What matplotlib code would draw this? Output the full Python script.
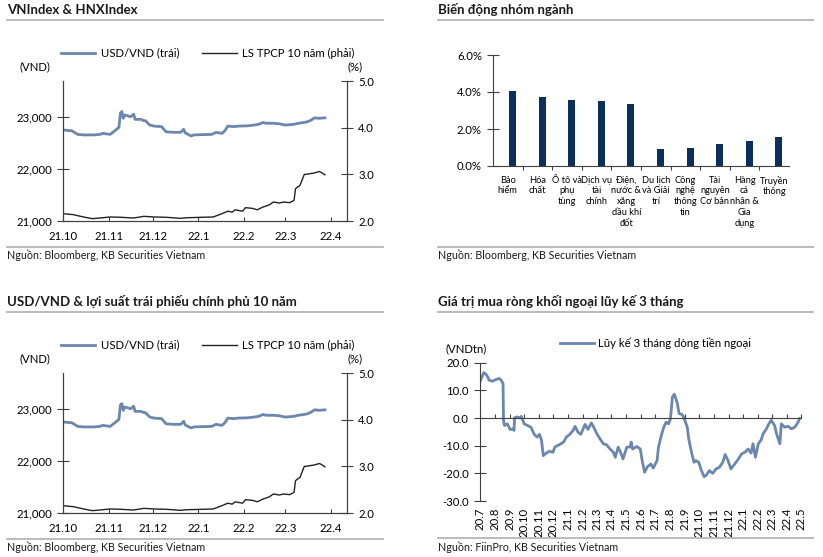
import matplotlib
matplotlib.use("Agg")
import matplotlib.pyplot as plt
import matplotlib.dates as mdates
from matplotlib.lines import Line2D
from matplotlib.ticker import FuncFormatter
import pandas as pd
import numpy as np

plt.rcParams['font.family'] = ['Lato', 'Noto Sans', 'DejaVu Sans']

# USD/VND (left axis)
fx_dates = ["2021-10-01", "2021-10-07", "2021-10-11", "2021-10-15", "2021-10-22", "2021-10-26",
            "2021-10-28", "2021-11-02", "2021-11-05", "2021-11-08", "2021-11-09", "2021-11-10",
            "2021-11-11", "2021-11-12", "2021-11-16", "2021-11-18", "2021-11-19", "2021-11-23",
            "2021-11-25", "2021-11-26", "2021-11-29", "2021-12-02", "2021-12-07", "2021-12-10",
            "2021-12-15", "2021-12-20", "2021-12-22", "2021-12-23", "2021-12-27", "2021-12-29",
            "2022-01-03", "2022-01-10", "2022-01-13", "2022-01-17", "2022-01-19", "2022-01-21",
            "2022-01-25", "2022-01-28", "2022-02-03", "2022-02-08", "2022-02-11", "2022-02-14",
            "2022-02-16", "2022-02-21", "2022-02-25", "2022-03-01", "2022-03-07", "2022-03-10",
            "2022-03-15", "2022-03-18", "2022-03-21", "2022-03-24", "2022-03-28"]
usd_vnd = [22755, 22740, 22670, 22660, 22660, 22670,
           22690, 22670, 22735, 22805, 23080, 23110,
           22980, 23045, 23010, 23060, 22960, 22960,
           22935, 22935, 22850, 22830, 22820, 22720,
           22710, 22710, 22770, 22700, 22640, 22660,
           22665, 22670, 22710, 22690, 22740, 22830,
           22820, 22830, 22835, 22850, 22865, 22900,
           22885, 22885, 22875, 22850, 22865, 22885,
           22905, 22935, 22990, 22980, 22990]

# 10y government bond yield (right axis, %)
yld_dates = ["2021-10-01", "2021-10-08", "2021-10-15", "2021-10-21", "2021-10-26", "2021-11-02",
             "2021-11-09", "2021-11-18", "2021-11-25", "2021-12-02", "2021-12-10", "2021-12-20",
             "2021-12-24", "2022-01-03", "2022-01-11", "2022-01-14", "2022-01-17", "2022-01-21",
             "2022-01-24", "2022-01-26", "2022-01-31", "2022-02-02", "2022-02-07", "2022-02-10",
             "2022-02-14", "2022-02-18", "2022-02-21", "2022-02-25", "2022-02-28", "2022-03-04",
             "2022-03-07", "2022-03-08", "2022-03-09", "2022-03-11", "2022-03-14", "2022-03-15",
             "2022-03-21", "2022-03-24", "2022-03-25", "2022-03-28"]
yld = [2.157, 2.136, 2.086, 2.05, 2.064, 2.086,
       2.08, 2.064, 2.10, 2.086, 2.08, 2.057,
       2.07, 2.079, 2.086, 2.12, 2.157, 2.21,
       2.19, 2.24, 2.21, 2.286, 2.27, 2.24,
       2.30, 2.343, 2.407, 2.386, 2.407, 2.393,
       2.44, 2.69, 2.72, 2.76, 3.0, 3.0,
       3.03, 3.06, 3.05, 2.99]

# sector moves
sectors = ["Bảo\nhiểm", "Hóa\nchất", "Ô tô và\nphụ\ntùng", "Dịch vụ\ntài\nchính",
           "Điện,\nnước &\nxăng\ndầu khí\nđốt", "Du lịch\nvà Giải\ntrí", "Công\nnghệ\nthông\ntin",
           "Tài\nnguyên\nCơ bản", "Hàng\ncá\nnhân &\nGia\ndụng", "Truyền\nthông"]
sector_chg = [4.07, 3.71, 3.57, 3.51, 3.33, 0.92, 0.97, 1.21, 1.33, 1.55]

# 3M cumulative foreign net buying (VNDtn)
flow_dates = ["2020-07-01", "2020-07-05", "2020-07-09", "2020-07-13", "2020-07-17", "2020-07-20",
              "2020-07-27", "2020-08-03", "2020-08-10", "2020-08-14", "2020-08-18", "2020-08-19",
              "2020-08-21", "2020-08-27", "2020-09-02", "2020-09-07", "2020-09-10", "2020-09-11",
              "2020-09-16", "2020-09-22", "2020-09-25", "2020-10-01", "2020-10-08", "2020-10-15",
              "2020-10-22", "2020-10-28", "2020-11-02", "2020-11-06", "2020-11-10", "2020-11-16",
              "2020-11-23", "2020-11-30", "2020-12-04", "2020-12-10", "2020-12-17", "2020-12-23",
              "2020-12-28", "2021-01-04", "2021-01-11", "2021-01-15", "2021-01-21", "2021-01-27",
              "2021-02-01", "2021-02-05", "2021-02-11", "2021-02-18", "2021-02-23", "2021-03-01",
              "2021-03-08", "2021-03-15", "2021-03-22", "2021-03-29", "2021-04-05", "2021-04-09",
              "2021-04-15", "2021-04-20", "2021-04-25", "2021-05-03", "2021-05-10", "2021-05-12",
              "2021-05-15", "2021-05-24", "2021-05-31", "2021-06-04", "2021-06-09", "2021-06-15",
              "2021-06-22", "2021-06-27", "2021-07-05", "2021-07-08", "2021-07-13", "2021-07-19",
              "2021-07-24", "2021-07-29", "2021-08-02", "2021-08-06", "2021-08-10", "2021-08-16",
              "2021-08-20", "2021-08-26", "2021-08-30", "2021-09-06", "2021-09-09", "2021-09-14",
              "2021-09-20", "2021-09-24", "2021-09-30", "2021-10-05", "2021-10-11", "2021-10-15",
              "2021-10-22", "2021-10-29", "2021-11-05", "2021-11-12", "2021-11-19", "2021-11-24",
              "2021-11-30", "2021-12-06", "2021-12-13", "2021-12-20", "2021-12-28", "2022-01-04",
              "2022-01-11", "2022-01-17", "2022-01-21", "2022-01-26", "2022-02-01", "2022-02-07",
              "2022-02-11", "2022-02-18", "2022-02-23", "2022-02-28", "2022-03-07", "2022-03-11",
              "2022-03-18", "2022-03-21", "2022-03-28", "2022-04-04", "2022-04-11", "2022-04-18",
              "2022-04-25", "2022-04-28"]
flow = [13.1, 14.9, 16.4, 15.9, 14.9, 13.7,
        13.3, 13.9, 14.3, 13.7, 12.5, -0.8,
        -2.7, -2.1, -4.2, -3.9, -4.5, 0.1,
        0.4, 0.0, 0.6, -2.1, -2.7, -3.3,
        -5.9, -6.9, -5.9, -7.9, -13.6, -12.7,
        -12.0, -12.4, -10.5, -9.9, -9.3, -8.5,
        -6.9, -5.9, -4.5, -3.0, -5.1, -5.9,
        -3.9, -2.3, -4.1, -1.8, -3.3, -5.5,
        -7.5, -9.3, -9.7, -11.2, -12.4, -14.2,
        -10.5, -12.4, -14.8, -10.5, -10.5, -8.7,
        -11.2, -10.3, -11.2, -15.4, -19.6, -17.6,
        -16.6, -18.1, -15.4, -10.5, -6.9, -3.3,
        -1.5, -2.1, -0.2, 7.6, 8.6, 5.5,
        1.6, 1.3, 0.1, -3.3, -7.5, -11.8,
        -16.0, -15.4, -16.0, -18.8, -21.2, -20.8,
        -19.0, -20.0, -18.4, -17.8, -16.0, -13.2,
        -15.4, -18.4, -16.8, -15.2, -13.0, -12.4,
        -11.2, -12.7, -9.3, -14.2, -9.3, -7.9,
        -5.7, -3.9, -2.1, -0.8, -2.7, -5.7,
        -9.3, -2.1, -3.3, -3.0, -3.9, -3.3,
        -1.5, -0.2]

W, H = 823, 557
blue = '#6b87ad'
navy = '#0c2f5c'
rule = '#b5b5b5'
spine_c = '#404040'
txt_c = '#1a1a1a'
fs = 8.2

fig = plt.figure(figsize=(W / 100, H / 100), dpi=100)


def fx(x):
    return x / W


def fy(y):
    return 1 - y / H


def frame(x0, x1, y_title, y_rule, y_src_rule, y_src, title, src):
    fig.text(fx(x0), fy(y_title), title, fontsize=9.5, fontweight='bold', va='center', ha='left', color=txt_c)
    fig.add_artist(Line2D([fx(x0), fx(x1)], [fy(y_rule)] * 2, color=rule, lw=1.3))
    fig.add_artist(Line2D([fx(x0), fx(x1)], [fy(y_src_rule)] * 2, color=rule, lw=1.3))
    fig.text(fx(x0), fy(y_src), src, fontsize=7.7, va='center', ha='left', color=txt_c)


def month_fmt(v, p):
    d = mdates.num2date(v)
    return "%d.%d" % (d.year % 100, d.month)


def fx_chart(top, title):
    frame(7, 383, top + 10, top + 20, top + 247, top + 255, title, "Nguồn: Bloomberg, KB Securities Vietnam")
    ax = fig.add_axes([fx(63), fy(top + 221), 284 / W, 140 / H])
    ax2 = ax.twinx()
    l1, = ax.plot(pd.to_datetime(fx_dates), usd_vnd, color=blue, lw=2)
    l2, = ax2.plot(pd.to_datetime(yld_dates), yld, color='#222222', lw=1)
    ax.set_xlim(pd.Timestamp("2021-10-01"), pd.Timestamp("2022-04-12"))
    ax.set_ylim(21000, 23700)
    ax.set_yticks([21000, 22000, 23000])
    ax.yaxis.set_major_formatter(FuncFormatter(lambda v, p: "{:,.0f}".format(v)))
    ax2.set_ylim(2.0, 5.0)
    ax2.set_yticks([2.0, 3.0, 4.0, 5.0])
    ax2.yaxis.set_major_formatter(FuncFormatter(lambda v, p: "%.1f" % v))
    ax.xaxis.set_major_locator(mdates.MonthLocator())
    ax.xaxis.set_major_formatter(FuncFormatter(month_fmt))
    for a in (ax, ax2):
        a.spines['top'].set_visible(False)
        for s in a.spines.values():
            s.set_color(spine_c)
            s.set_linewidth(0.8)
    ax.tick_params(axis='x', direction='in', length=3, pad=7, labelsize=fs, color=spine_c)
    ax.tick_params(axis='y', direction='inout', length=8, pad=4, labelsize=fs, color=spine_c)
    ax2.tick_params(axis='y', direction='inout', length=8, pad=4, labelsize=fs, color=spine_c)
    fig.legend([l1, l2], ["USD/VND (trái)", "LS TPCP 10 năm (phải)"], ncol=2, frameon=False,
               loc='center left', bbox_to_anchor=(fx(51), fy(top + 53)), fontsize=fs,
               handlelength=3.0, handletextpad=0.5, columnspacing=2.0)
    fig.text(fx(35), fy(top + 67), "(VND)", fontsize=fs, ha='center', va='center')
    fig.text(fx(355), fy(top + 67), "(%)", fontsize=fs, ha='center', va='center')


fx_chart(0, "VNIndex & HNXIndex")
fx_chart(292, "USD/VND & lợi suất trái phiếu chính phủ 10 năm")

# top right: sector bars
frame(438, 813, 10, 20, 247, 255, "Biến động nhóm ngành", "Nguồn: Bloomberg, KB Securities Vietnam")
ax = fig.add_axes([fx(493), fy(166), 296 / W, 111 / H])
xs = np.arange(len(sectors))
ax.bar(xs + 0.16, sector_chg, width=0.24, color=navy)
ax.set_xlim(-0.5, len(sectors) - 0.5)
ax.set_ylim(0, 6)
ax.set_yticks([0, 2, 4, 6])
ax.yaxis.set_major_formatter(FuncFormatter(lambda v, p: "%.1f%%" % v))
ax.set_xticks(xs[:-1] + 0.5)
ax.set_xticklabels([])
ax.set_xticks(xs, minor=True)
ax.set_xticklabels(sectors, minor=True, fontsize=6.7, linespacing=1.25, va='top')
ax.tick_params(axis='x', which='major', direction='out', length=3, color=spine_c)
ax.tick_params(axis='x', which='minor', length=0, pad=7)
ax.tick_params(axis='y', direction='inout', length=8, pad=4, labelsize=fs, color=spine_c)
for s in ['top', 'right']:
    ax.spines[s].set_visible(False)
for s in ['left', 'bottom']:
    ax.spines[s].set_color(spine_c)
    ax.spines[s].set_linewidth(0.8)

# bottom right: foreign flows
frame(438, 813, 301, 312, 538, 547, "Giá trị mua ròng khối ngoại lũy kế 3 tháng", "Nguồn: FiinPro, KB Securities Vietnam")
ax = fig.add_axes([fx(480), fy(501), 321 / W, 138.3 / H])
ln, = ax.plot(pd.to_datetime(flow_dates), flow, color=blue, lw=2)
ax.set_xlim(pd.Timestamp("2020-07-01"), pd.Timestamp("2022-05-01"))
ax.set_ylim(-30, 20)
ax.set_yticks([-30, -20, -10, 0, 10, 20])
ax.yaxis.set_major_formatter(FuncFormatter(lambda v, p: "%.1f" % v))
ax.spines['bottom'].set_position(('data', 0))
for s in ['top', 'right']:
    ax.spines[s].set_visible(False)
for s in ['left', 'bottom']:
    ax.spines[s].set_color(spine_c)
    ax.spines[s].set_linewidth(0.8)
ax.xaxis.set_major_locator(mdates.MonthLocator())
ax.tick_params(axis='x', direction='in', length=3, labelbottom=False, color=spine_c)
ax.tick_params(axis='y', direction='inout', length=8, pad=4, labelsize=fs, color=spine_c)
for d in pd.date_range("2020-07-01", "2022-05-01", freq="MS"):
    ax.annotate("%d.%d" % (d.year % 100, d.month), (mdates.date2num(d), -30), xytext=(0, -5),
                textcoords='offset points', rotation=90, ha='center', va='top', fontsize=fs)
ax.legend([ln], ["Lũy kế 3 tháng dòng tiền ngoại"], frameon=False, loc='center left',
          bbox_to_anchor=(fx(550), fy(343)), bbox_transform=fig.transFigure, fontsize=fs,
          handlelength=3.0, handletextpad=0.3)
fig.text(fx(466), fy(349), "(VNDtn)", fontsize=fs, ha='center', va='center')

fig.savefig("out.png", dpi=100)
